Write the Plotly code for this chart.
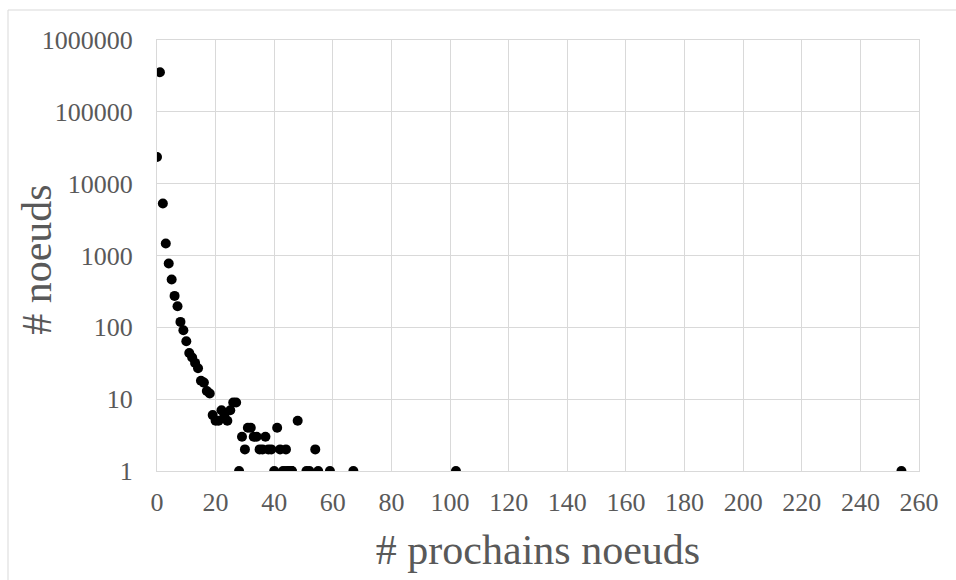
import plotly.graph_objects as go

# number of next nodes (x) and number of nodes (y)
prochains = [0, 1, 2, 3, 4, 5, 6, 7, 8, 9, 10, 11, 12, 13, 14, 15, 16, 17, 18,
             19, 20, 21, 22, 23, 24, 25, 26, 27, 28, 29, 30, 31, 32, 33, 34,
             35, 36, 37, 38, 39, 40, 41, 42, 43, 44, 45, 46, 48, 51, 52, 54,
             55, 59, 67, 102, 254]
noeuds = [23500, 355000, 5300, 1470, 775, 464, 274, 197, 119, 91, 64, 44, 38,
          32, 27, 18, 17, 13, 12,
          6, 5, 5, 7, 6, 5, 7, 9, 9, 1, 3, 2, 4, 4, 3, 3,
          2, 2, 3, 2, 2, 1, 4, 2, 1, 2, 1, 1, 5, 1, 1, 2,
          1, 1, 1, 1, 1]

# extra points at y = 1 lying on the same abscissa band
extra_x = [44, 45, 46]
extra_y = [1, 1, 1]

x_ticks = list(range(0, 261, 20))
y_ticks = [1, 10, 100, 1000, 10000, 100000, 1000000]

FONT = "Liberation Serif, Times New Roman, serif"
GRAY = "#595959"
GRID = "#d9d9d9"

fig = go.Figure()
fig.add_trace(go.Scatter(
    x=prochains + extra_x, y=noeuds + extra_y, mode="markers",
    marker=dict(color="black", size=10, line=dict(width=0)),
    showlegend=False, hoverinfo="x+y",
))

W, H = 956, 580
L, R, T, B = 157, 37, 40, 109
pw, ph = W - L - R, H - T - B

fig.update_layout(
    width=W, height=H,
    margin=dict(l=L, r=R, t=T, b=B),
    paper_bgcolor="white", plot_bgcolor="white",
    font=dict(family=FONT, color=GRAY),
    xaxis=dict(
        range=[0, 260], tickvals=x_ticks, ticktext=[str(v) for v in x_ticks],
        showgrid=True, gridcolor=GRID, gridwidth=1,
        zeroline=False, showline=True, linecolor=GRID, linewidth=1, mirror=True,
        ticks="", tickfont=dict(family=FONT, size=26, color=GRAY),
        ticklabelstandoff=8,
        title=dict(text="# prochains noeuds", font=dict(family=FONT, size=42, color=GRAY),
                   standoff=18),
        automargin=False,
    ),
    yaxis=dict(
        type="log", range=[0, 6], tickvals=y_ticks, ticktext=[str(v) for v in y_ticks],
        showgrid=True, gridcolor=GRID, gridwidth=1,
        zeroline=False, showline=True, linecolor=GRID, linewidth=1, mirror=True,
        ticks="", tickfont=dict(family=FONT, size=26, color=GRAY),
        ticklabelstandoff=18,
        automargin=False,
    ),
    annotations=[dict(
        text="# noeuds", textangle=-90, showarrow=False,
        xref="paper", yref="paper",
        x=(37 - L) / pw, y=0.49, xanchor="center", yanchor="middle",
        font=dict(family=FONT, size=42, color=GRAY),
    )],
    shapes=[dict(
        type="rect", xref="paper", yref="paper",
        x0=(8 - L) / pw, x1=(W + 5 - L) / pw,
        y0=-(H + 5 - T - ph) / ph, y1=(H - B - 10) / ph,
        line=dict(color=GRID, width=1), fillcolor="rgba(0,0,0,0)", layer="below",
    )],
)

fig.write_html("out.html")
